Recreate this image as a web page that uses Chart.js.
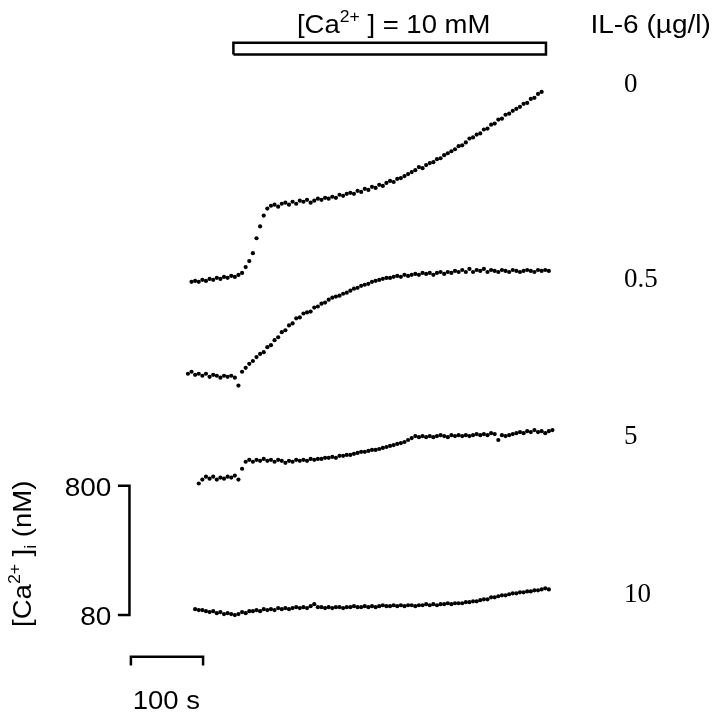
<!DOCTYPE html>
<html lang="en">
  <head>
    <meta charset="UTF-8" />
    <title>[Ca2+]i traces vs IL-6</title>
    <script src="https://cdn.jsdelivr.net/npm/chart.js"></script>
    <style>
      html, body { margin: 0; padding: 0; background: #fff; }
      #wrap { width: 717px; height: 719px; }
    </style>
  </head>
  <body>
    <div id="wrap"><canvas id="chart" width="717" height="719"></canvas></div>

    <script>
      // sampling times (s)
      const timeS = [
        0, 5, 10, 15, 20, 25, 30, 35, 40, 45, 50, 55, 60, 65, 70, 75, 80, 85, 90, 95,
        100, 105, 110, 115, 120, 125, 130, 135, 140, 145, 150, 155, 160, 165, 170, 175, 180, 185, 190, 195,
        200, 205, 210, 215, 220, 225, 230, 235, 240, 245, 250, 255, 260, 265, 270, 275, 280, 285, 290, 295,
        300, 305, 310, 315, 320, 325, 330, 335, 340, 345, 350, 355, 360, 365, 370, 375, 380, 385, 390, 395,
        400, 405, 410, 415, 420, 425, 430, 435, 440, 445, 450, 455, 460, 465, 470, 475, 480, 485, 490, 495,
        500, 505
      ];

      // IL-6 doses (µg/l), one trace each
      const il6Doses = ["0", "0.5", "5", "10"];

      // [Ca2+]i (nM)
      const ca_il6_0 = [
        null,
        95, 100, 95, 106, 100, 111, 106, 117, 111, 122,
        117, 128, 122, 133, 144, 177, 210, 254, 337, 403,
        463, 502, 518, 524, 513, 529, 535, 524, 540, 529,
        546, 540, 551, 535, 546, 557, 551, 562, 557, 568,
        562, 579, 573, 584, 590, 584, 601, 595, 612, 606,
        623, 617, 634, 628, 645, 656, 650, 667, 672, 683,
        694, 705, 716, 733, 727, 744, 755, 760, 777, 782,
        799, 810, 821, 832, 849, 854, 870, 892, 898, 914,
        920, 942, 947, 969, 975, 997, 1002, 1024, 1030, 1046,
        1057, 1068, 1085, 1090, 1112, 1118, 1140, 1151,
        null, null, null
      ];
      const ca_il6_05 = [
        106, 117, 100, 106, 95, 106, 89, 100, 95, 84,
        95, 89, 95, 84, 40, 117, 139, 161, 177, 199,
        216, 226, 254, 265, 293, 309, 337, 348, 375, 386,
        414, 419, 441, 447, 452, 474, 480, 496, 502, 518,
        529, 535, 540, 551, 557, 568, 579, 584, 595, 601,
        606, 617, 623, 628, 634, 639, 639, 645, 650, 645,
        656, 650, 656, 661, 656, 667, 661, 667, 656, 667,
        672, 661, 672, 667, 678, 672, 683, 672, 689, 672,
        683, 678, 689, 672, 683, 678, 672, 683, 678, 672,
        683, 678, 672, 678, 683, 678, 672, 683, 678, 683,
        678, null
      ];
      const ca_il6_5 = [
        null, null, null,
        73, 95, 111, 100, 111, 95, 106, 100, 111, 106,
        117, 95, 155, 194, 205, 194, 205, 199, 210, 199,
        205, 194, 205, 199, 188, 199, 194, 205, 199, 205,
        199, 210, 205, 210, 210, 216, 216, 221, 216, 227,
        227, 232, 232, 238, 243, 249, 249, 254, 260, 260,
        265, 271, 276, 282, 287, 293, 298, 304, 315, 326,
        337, 331, 337, 331, 337, 331, 337, 342, 337, 331,
        342, 337, 342, 337, 342, 337, 342, 348, 342, 348,
        342, 353, 348, 315, 342, 337, 342, 348, 353, 359,
        353, 364, 359, 370, 359, 364, 353, 364, 370
      ];
      const ca_il6_10 = [
        null, null,
        100, 95, 95, 89, 84, 89, 78, 84, 73, 78,
        73, 67, 73, 84, 78, 89, 89, 95, 89, 100,
        95, 100, 95, 106, 100, 106, 100, 106, 111, 106,
        111, 106, 117, 128, 111, 111, 106, 111, 106, 111,
        111, 106, 111, 111, 117, 111, 111, 117, 111, 117,
        111, 117, 122, 117, 117, 122, 117, 122, 117, 122,
        122, 117, 122, 122, 128, 122, 128, 122, 128, 128,
        133, 128, 133, 133, 133, 139, 139, 144, 144, 150,
        155, 155, 166, 166, 172, 177, 177, 183, 188, 188,
        194, 194, 199, 199, 205, 205, 210, 216, 210,
        null
      ];

      // high-Ca pulse (s) and scale bars
      const caPulseS = [63, 496];
      const scaleBarNM = [80, 800];
      const scaleBarS = 100;

      // layout: vertical stacking of traces, in nM
      const traceShift = [1839, 1316.5, 739, 13];
      const traces = [ca_il6_0, ca_il6_05, ca_il6_5, ca_il6_10];

      const SANS = "'Liberation Sans', Arial, Helvetica, sans-serif";
      const SERIF = "'Liberation Serif', 'Times New Roman', serif";

      function drawRich(ctx, parts, x, y, align, size, family, stretch) {
        const small = Math.round(size * 0.62);
        let w = 0;
        parts.forEach((p) => {
          ctx.font = `${p.sup || p.sub ? small : size}px ${family}`;
          w += ctx.measureText(p.t).width;
        });
        ctx.save();
        ctx.translate(x, y);
        ctx.scale(stretch, 1);
        let cx = align === "center" ? -w / 2 : align === "right" ? -w : 0;
        ctx.textAlign = "left";
        ctx.textBaseline = "alphabetic";
        parts.forEach((p) => {
          ctx.font = `${p.sup || p.sub ? small : size}px ${family}`;
          const dy = p.sup ? -size * 0.42 : p.sub ? size * 0.2 : 0;
          ctx.fillText(p.t, cx, dy);
          cx += ctx.measureText(p.t).width;
        });
        ctx.restore();
      }

      const textPlugin = {
        id: "figText",
        afterDatasetsDraw(chart) {
          const ctx = chart.ctx;
          const xs = chart.scales.x;
          const ys = chart.scales.y;
          const X = (v) => xs.getPixelForValue(v);
          const Y = (v) => ys.getPixelForValue(v);
          ctx.save();
          ctx.fillStyle = "#000";

          // header over the pulse bar
          drawRich(ctx, [{ t: "[Ca" }, { t: "2+", sup: true }, { t: " ] = 10 mM" }],
            X(285), Y(3319), "center", 25, SANS, 1.1);
          drawRich(ctx, [{ t: "IL-6 (\u00b5g/l)" }], X(641), Y(3319), "center", 25, SANS, 1.12);

          // dose labels
          const doseY = [2990, 1905, 1031, 151];
          il6Doses.forEach((d, i) => {
            drawRich(ctx, [{ t: d }], X(604), Y(doseY[i]), "left", 27, SERIF, 1);
          });

          // concentration scale bar labels
          scaleBarNM.forEach((v) => {
            drawRich(ctx, [{ t: String(v) }], X(-106), Y(v) + 10, "right", 25, SANS, 1.12);
          });

          // time scale bar label
          drawRich(ctx, [{ t: scaleBarS + " s" }], X(-30), Y(-442), "center", 25, SANS, 1.1);

          // rotated axis label
          ctx.save();
          ctx.translate(X(-218), Y(421));
          ctx.rotate(-Math.PI / 2);
          drawRich(ctx, [{ t: "[Ca" }, { t: "2+", sup: true }, { t: " ]" }, { t: "i", sub: true }, { t: " (nM)" }],
            0, 0, "center", 25, SANS, 1.1);
          ctx.restore();

          ctx.restore();
        },
      };

      function createChart() {
        const datasets = traces.map((vals, k) => ({
          label: "IL-6 " + il6Doses[k],
          data: timeS
            .map((t, i) => (vals[i] == null ? null : { x: t, y: vals[i] + traceShift[k] }))
            .filter((p) => p),
          showLine: false,
          pointRadius: 2.1,
          pointBorderWidth: 0,
          pointBackgroundColor: "#000",
          clip: false,
        }));

        const barStyle = {
          showLine: true,
          borderColor: "#000",
          borderWidth: 2.5,
          pointRadius: 0,
          fill: false,
          borderJoinStyle: "miter",
          clip: false,
        };

        // open bar marking the 10 mM Ca2+ application
        datasets.push({
          label: "pulse",
          data: [
            { x: caPulseS[0], y: 3198 },
            { x: caPulseS[0], y: 3264 },
            { x: caPulseS[1], y: 3264 },
            { x: caPulseS[1], y: 3198 },
            { x: caPulseS[0], y: 3198 },
          ],
          ...barStyle,
        });

        // [Ca2+]i scale bar
        datasets.push({
          label: "nM bar",
          data: [
            { x: -97, y: scaleBarNM[1] },
            { x: -81, y: scaleBarNM[1] },
            { x: -81, y: scaleBarNM[0] },
            { x: -97, y: scaleBarNM[0] },
          ],
          ...barStyle,
        });

        // time scale bar
        datasets.push({
          label: "s bar",
          data: [
            { x: -79, y: -200 },
            { x: -79, y: -151 },
            { x: -79 + scaleBarS, y: -151 },
            { x: -79 + scaleBarS, y: -200 },
          ],
          ...barStyle,
        });

        new Chart(document.getElementById("chart"), {
          type: "scatter",
          data: { datasets: datasets },
          options: {
            responsive: false,
            animation: false,
            devicePixelRatio: 1,
            layout: { padding: 0 },
            plugins: { legend: { display: false }, tooltip: { enabled: false } },
            scales: {
              x: { type: "linear", display: false, min: -254.8, max: 727.4 },
              y: { type: "linear", display: false, min: -475.5, max: 3479 },
            },
          },
          plugins: [textPlugin],
        });
      }

      document.addEventListener("DOMContentLoaded", createChart);
    </script>
  </body>
</html>
